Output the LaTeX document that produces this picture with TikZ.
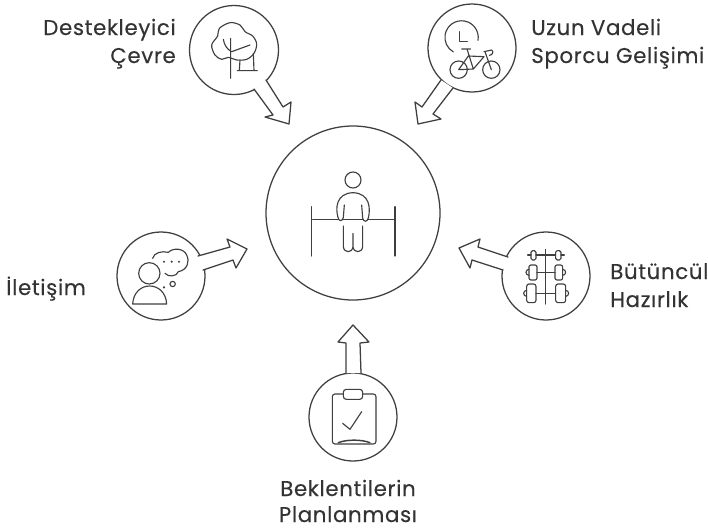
\documentclass[tikz,border=0pt]{standalone}
\usepackage{fontspec}
\setmainfont{Poppins}[LetterSpace=3,FakeBold=.25]
\definecolor{ink}{HTML}{3F3F3F}
\definecolor{txt}{HTML}{333333}
\tikzset{
  ln/.style={draw=ink,line width=.95pt,line join=round,line cap=round},
  icon/.style={draw=ink,line width=.85pt,line join=round,line cap=round},
  hub/.style={circle,draw=ink,line width=.95pt,inner sep=0pt,fill=white},
  blockarrow/.style={ln,fill=white},
  lab/.style={text=txt,font=\fontsize{16pt}{16pt}\selectfont,inner sep=0pt,anchor=base},
  zoomed/.style={shift={#1},x=.25pt,y=-.25pt}
}
\begin{document}
\begin{tikzpicture}[x=.75pt,y=-.75pt]
\useasboundingbox (0,0) rectangle (708,529);
% circles
\node[hub,minimum size=174*.75pt] (centre) at (353,213) {};
\node[hub,minimum size=89*.75pt] (tree) at (234,50) {};
\node[hub,minimum size=88*.75pt] (bike) at (472,48) {};
\node[hub,minimum size=88*.75pt] (talk) at (161,276) {};
\node[hub,minimum size=88*.75pt] (gym) at (546,276) {};
\node[hub,minimum size=88*.75pt] (plan) at (353,417) {};
% arrows
\coordinate (treetip) at (289,124);
\coordinate (biketip) at (418,124);
\coordinate (talktip) at (247,249);
\coordinate (gymtip) at (459,248);
\coordinate (plantip) at (353,325);
\draw[blockarrow] (254,89)--(273,115)--(265,117)--(treetip)--(291,102)--(283,107)--(266,80);
\draw[blockarrow] (441,80)--(422,107)--(415,102)--(biketip)--(441,119)--(433,114)--(453,88);
\draw[blockarrow] (198,256)--(230,247)--(227,239)--(talktip)--(236,268)--(233,260)--(203,270);
\draw[blockarrow] (508,257)--(478,247)--(480,239)--(gymtip)--(470,268)--(472,260)--(503,270);
\draw[blockarrow] (346,373)--(346,343)--(338,342)--(plantip)--(369,342)--(360,343)--(361,373);
% tree
\begin{scope}[zoomed={(180,0)}]
\draw[icon] plot[smooth cycle,tension=.55] coordinates {(125,178)(105,165)(95,135)(113,108)(118,85)(150,68)(180,75)(195,95)(218,108)(230,132)(222,160)(200,178)(170,180)(145,172)};
\draw[icon] (152,115)--(152,235) (130,118)..controls (133,135) and (140,145)..(150,152) (210,135)--(155,155) (180,180)--(178,212) (220,160)--(222,212) (172,212)--(232,212);
\end{scope}
% bike and clock
\begin{scope}[zoomed={(410,0)}]
\draw[icon] (204,121) arc[start angle=10,end angle=-240,radius=50];
\draw[icon] (148,95)--(148,125)--(172,125);
\draw[icon] (146,209) circle (26) (244,209) circle (26);
\draw[icon] (146,209)--(175,168)--(222,170)--(190,207)--cycle (172,150)--(190,207) (155,147)--(182,147) (225,155)--(244,209) (222,155)--(245,150)..controls (252,155) and (248,165)..(238,166);
\end{scope}
% person at bar
\begin{scope}[zoomed={(260,130)}]
\draw[icon] (279,150) circle (24);
\draw[icon] (155,230)--(155,378) (405,230)--(405,378) (158,268)--(403,268);
\draw[icon,fill=white] (253,225)--(250,262)..controls (248,275) and (236,275)..(234,262)..controls (226,235) and (228,190)..(279,188)..controls (330,190) and (332,235)..(325,264)..controls (322,277) and (310,277)..(308,264)--(305,225);
\draw[icon] (250,288)--(250,350)..controls (252,370) and (277,370)..(279,350)--(279,310) (279,350)..controls (281,370) and (306,370)..(308,350)--(308,288);
\end{scope}
% talk
\begin{scope}[zoomed={(110,230)}]
\draw[icon] (118,130) circle (32);
\draw[icon] (68,222)..controls (72,150) and (166,150)..(170,222)--cycle;
\draw[icon] (128,85)..controls (132,68) and (155,62)..(175,67)..controls (190,52) and (222,55)..(230,75)..controls (240,95) and (232,120)..(205,125)..controls (200,140) and (175,142)..(165,130);
\fill[ink] (162,95) circle (3.5) (185,95) circle (3.5) (207,95) circle (3.5) (162,172) circle (3.5);
\draw[icon] (188,162) circle (8);
\end{scope}
% weights
\begin{scope}[zoomed={(455,230)}]
\draw[icon] (272,58)--(272,222);
\draw[icon] (218,75)--(228,75) (243,75)--(302,75) (318,75)--(328,75);
\draw[icon,rounded corners=1.2pt] (228,62) rectangle (243,90) (302,62) rectangle (318,90);
\draw[icon] (246,127)--(300,127);
\draw[icon,rounded corners=1.5pt] (222,105) rectangle (246,150) (300,105) rectangle (323,150);
\draw[icon] (222,118) arc[start angle=-90,end angle=-270,radius=9] (323,118) arc[start angle=-90,end angle=90,radius=9];
\draw[icon] (243,190)--(302,190);
\draw[icon,rounded corners=1.8pt] (215,162) rectangle (243,218) (302,162) rectangle (332,218);
\draw[icon] (215,181) arc[start angle=-90,end angle=-270,radius=9] (332,181) arc[start angle=-90,end angle=90,radius=9];
\end{scope}
% clipboard
\begin{scope}[zoomed={(300,320)}]
\draw[icon,rounded corners=2pt] (97,222) rectangle (228,372);
\draw[icon,fill=white,rounded corners=2.2pt] (130,208) rectangle (188,238);
\draw[icon] (128,310)--(150,328)--(185,275);
\draw[icon,line width=1.1pt] (115,368)..controls (140,358) and (185,358)..(210,368);
\end{scope}
% labels
\node[lab,anchor=base east] (l1a) at (176,35) {Destekleyici};
\node[lab,anchor=base east] (l1b) at (176,63) {Çevre};
\node[lab,anchor=base west] (l2a) at (531,35) {Uzun Vadeli};
\node[lab,anchor=base west] (l2b) at (531,63) {Sporcu Gelişimi};
\node[lab,anchor=base west] (l3) at (6,295) {İletişim};
\node[lab,anchor=base west] (l4a) at (610,279) {Bütüncül};
\node[lab,anchor=base west] (l4b) at (610,307) {Hazırlık};
\node[lab] (l5a) at (348,496) {Beklentilerin};
\node[lab] (l5b) at (348,522) {Planlanması};
\end{tikzpicture}
\end{document}
